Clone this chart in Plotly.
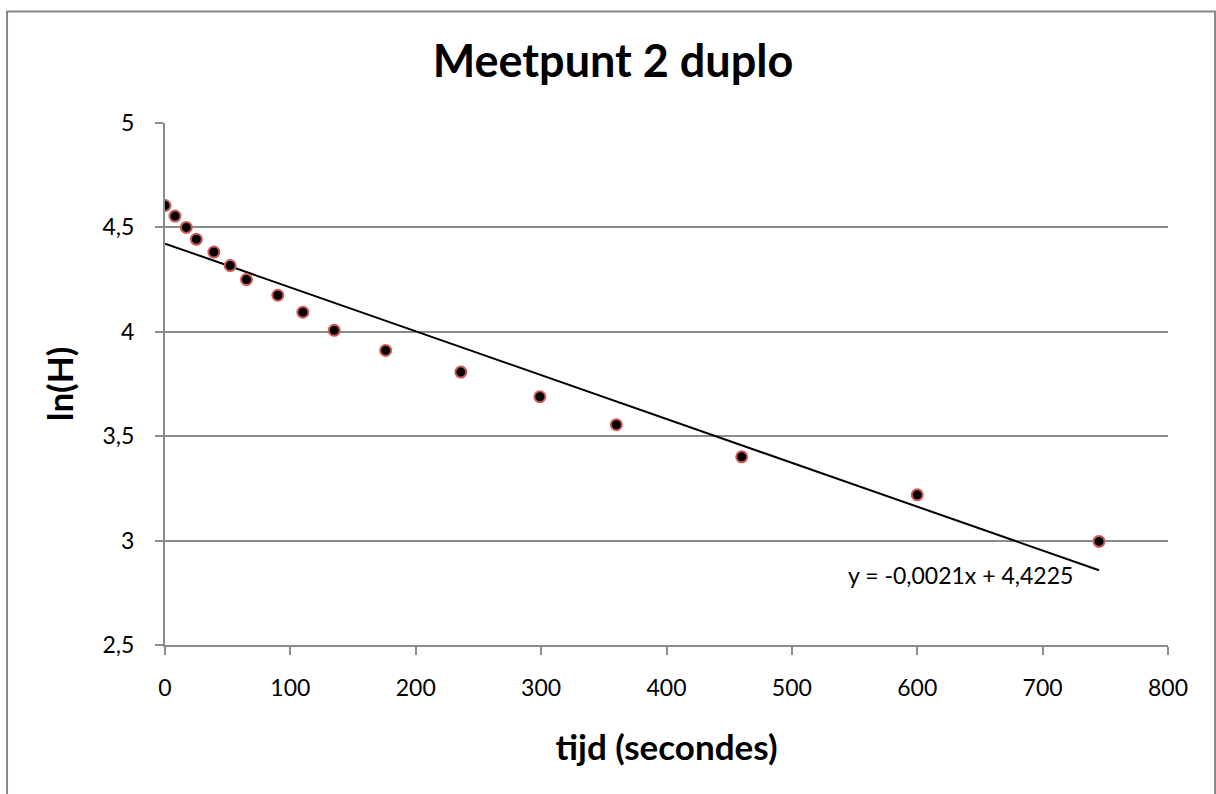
import plotly.graph_objects as go

# Measurements: time (s) and ln of the water height
tijd = [0, 8, 17, 25, 39, 52, 65, 90, 110, 135, 176, 236, 299, 360, 460, 600, 745]
ln_h = [4.605, 4.554, 4.500, 4.443, 4.382, 4.317, 4.250, 4.175, 4.094, 4.007, 3.911,
        3.807, 3.689, 3.555, 3.401, 3.219, 2.996]

# Linear trendline as stated in the label
slope = -0.0021
intercept = 4.4225
trend_label = "y = -0,0021x + 4,4225"

x_ticks = [0, 100, 200, 300, 400, 500, 600, 700, 800]
y_ticks = [2.5, 3, 3.5, 4, 4.5, 5]

FONT = "Lato"
GRID = "#8c8c8c"

trend_x = [min(tijd), max(tijd)]
trend_y = [intercept + slope * v for v in trend_x]

fig = go.Figure()
fig.add_trace(go.Scatter(
    x=trend_x, y=trend_y, mode="lines",
    line=dict(color="black", width=2), hoverinfo="skip", showlegend=False,
))
fig.add_trace(go.Scatter(
    x=tijd, y=ln_h, mode="markers",
    marker=dict(color="black", size=11, line=dict(color="#cc5955", width=2)),
    showlegend=False,
))

fig.add_annotation(
    x=trend_x[1], y=trend_y[1], xref="x", yref="y",
    text=trend_label, showarrow=False,
    xanchor="right", yanchor="middle", xshift=-24, yshift=-5,
    font=dict(family=FONT, size=23, color="black"),
)

# Outer chart frame
fig.add_shape(
    type="rect", xref="paper", yref="paper",
    x0=-0.1575, x1=1.0469, y0=-0.30, y1=1.2136,
    line=dict(color="#888888", width=2), fillcolor="rgba(0,0,0,0)", layer="below",
)

fig.update_layout(
    width=1216, height=794,
    margin=dict(l=165, r=48, t=123, b=149),
    paper_bgcolor="white", plot_bgcolor="white",
    separators=",.",
    title=dict(
        text="<b>Meetpunt 2 duplo</b>", x=613 / 1216, xref="container", xanchor="center",
        y=1 - 61 / 794, yref="container", yanchor="middle",
        font=dict(family=FONT, size=45, color="black"),
    ),
    font=dict(family=FONT, color="black"),
)

fig.update_xaxes(
    range=[0, 800], tickvals=x_ticks, showgrid=False,
    showline=True, linecolor=GRID, linewidth=2,
    ticks="outside", ticklen=8, tickwidth=2, tickcolor=GRID,
    tickfont=dict(family=FONT, size=23, color="black"),
    ticklabelstandoff=13,
    title=dict(text="<b>tijd (secondes)</b>", standoff=36,
               font=dict(family=FONT, size=35, color="black")),
    zeroline=False,
)
fig.update_yaxes(
    range=[2.5, 5], tickvals=y_ticks, showgrid=True, gridcolor=GRID, gridwidth=2,
    showline=True, linecolor=GRID, linewidth=2,
    ticks="outside", ticklen=8, tickwidth=2, tickcolor=GRID,
    tickfont=dict(family=FONT, size=23, color="black"),
    ticklabelstandoff=16,
    title=dict(text="<b>ln(H)</b>", standoff=18,
               font=dict(family=FONT, size=35, color="black")),
    zeroline=False,
)

fig.write_html("out.html")
